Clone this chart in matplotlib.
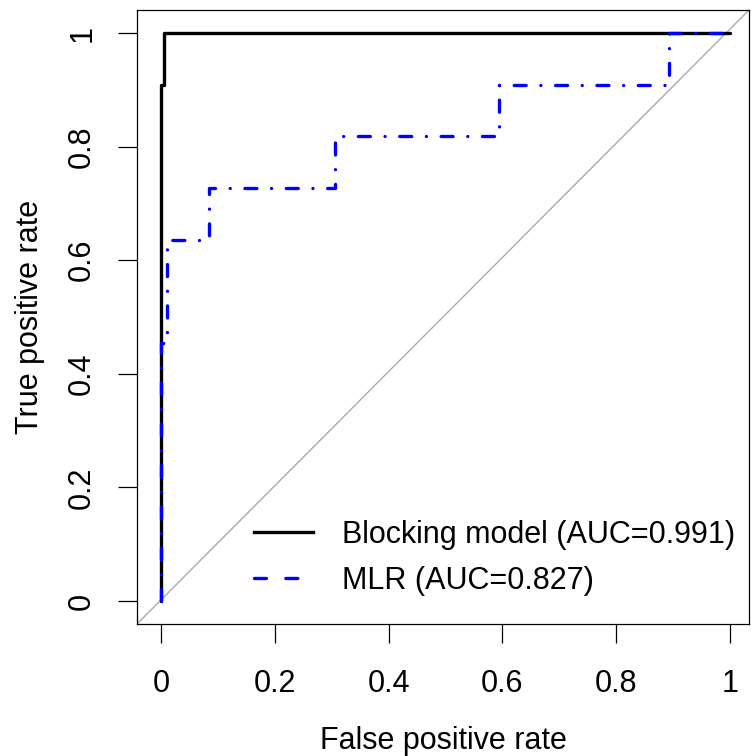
import matplotlib
matplotlib.use('Agg')
import matplotlib.pyplot as plt
from matplotlib.lines import Line2D

plt.rcParams['font.family'] = ['Liberation Sans', 'DejaVu Sans']

# ROC curves (step curves)
block_fpr = [0, 0, 0.0045, 0.0045, 1]
block_tpr = [0, 0.909, 0.909, 1, 1]

mlr_fpr = [0, 0, 0.010, 0.010, 0.084, 0.084, 0.305, 0.305, 0.594, 0.594, 0.893, 0.893, 1]
mlr_tpr = [0, 0.455, 0.455, 0.636, 0.636, 0.727, 0.727, 0.818, 0.818, 0.909, 0.909, 1, 1]

labels = ['Blocking model (AUC=0.991)', 'MLR (AUC=0.827)']
ticks = [0, 0.2, 0.4, 0.6, 0.8, 1]
tick_labels = ['0', '0.2', '0.4', '0.6', '0.8', '1']

FS = 22
W, H = 751, 756
fig = plt.figure(figsize=(W / 100, H / 100), dpi=100)
ax = fig.add_axes([137 / W, 1 - 624 / H, (749 - 137) / W, (624 - 10) / H])

ax.set_xlim(-0.0422, 1.0334)
ax.set_ylim(-0.0405, 1.0405)

# chance line across the whole box
ax.plot([0, 1], [0, 1], transform=ax.transAxes, color='#aaaaaa', lw=1.0, zorder=1)

ax.plot(block_fpr, block_tpr, color='black', lw=2.4, solid_capstyle='round',
        solid_joinstyle='round', zorder=3)
ax.plot(mlr_fpr, mlr_tpr, color='blue', lw=2.4, dash_capstyle='round',
        dashes=(3.6, 4.4, 0.01, 4.4), zorder=4)

for s in ax.spines.values():
    s.set_linewidth(0.9)

ax.set_xticks(ticks)
ax.set_xticklabels(tick_labels)
ax.set_yticks(ticks)
ax.set_yticklabels(tick_labels, rotation=90, va='center')
ax.tick_params(length=13.7, width=0.9, labelsize=FS)
ax.tick_params(axis='x', pad=19)
ax.tick_params(axis='y', pad=15)

ax.set_xlabel('False positive rate', fontsize=FS, labelpad=19)
ax.set_ylabel('True positive rate', fontsize=FS, labelpad=16)

handles = [
    Line2D([], [], color='black', lw=2.4),
    Line2D([], [], color='blue', lw=2.4, dash_capstyle='round', dashes=(3.6, 5.8)),
]
ax.legend(handles, labels, loc='upper left', frameon=False, fontsize=FS,
          bbox_to_anchor=(254 / W, 1 - 520 / H), bbox_transform=fig.transFigure,
          borderpad=0, borderaxespad=0, handlelength=1.93, handletextpad=0.95,
          labelspacing=0.52)

fig.savefig('out.png', dpi=100)
